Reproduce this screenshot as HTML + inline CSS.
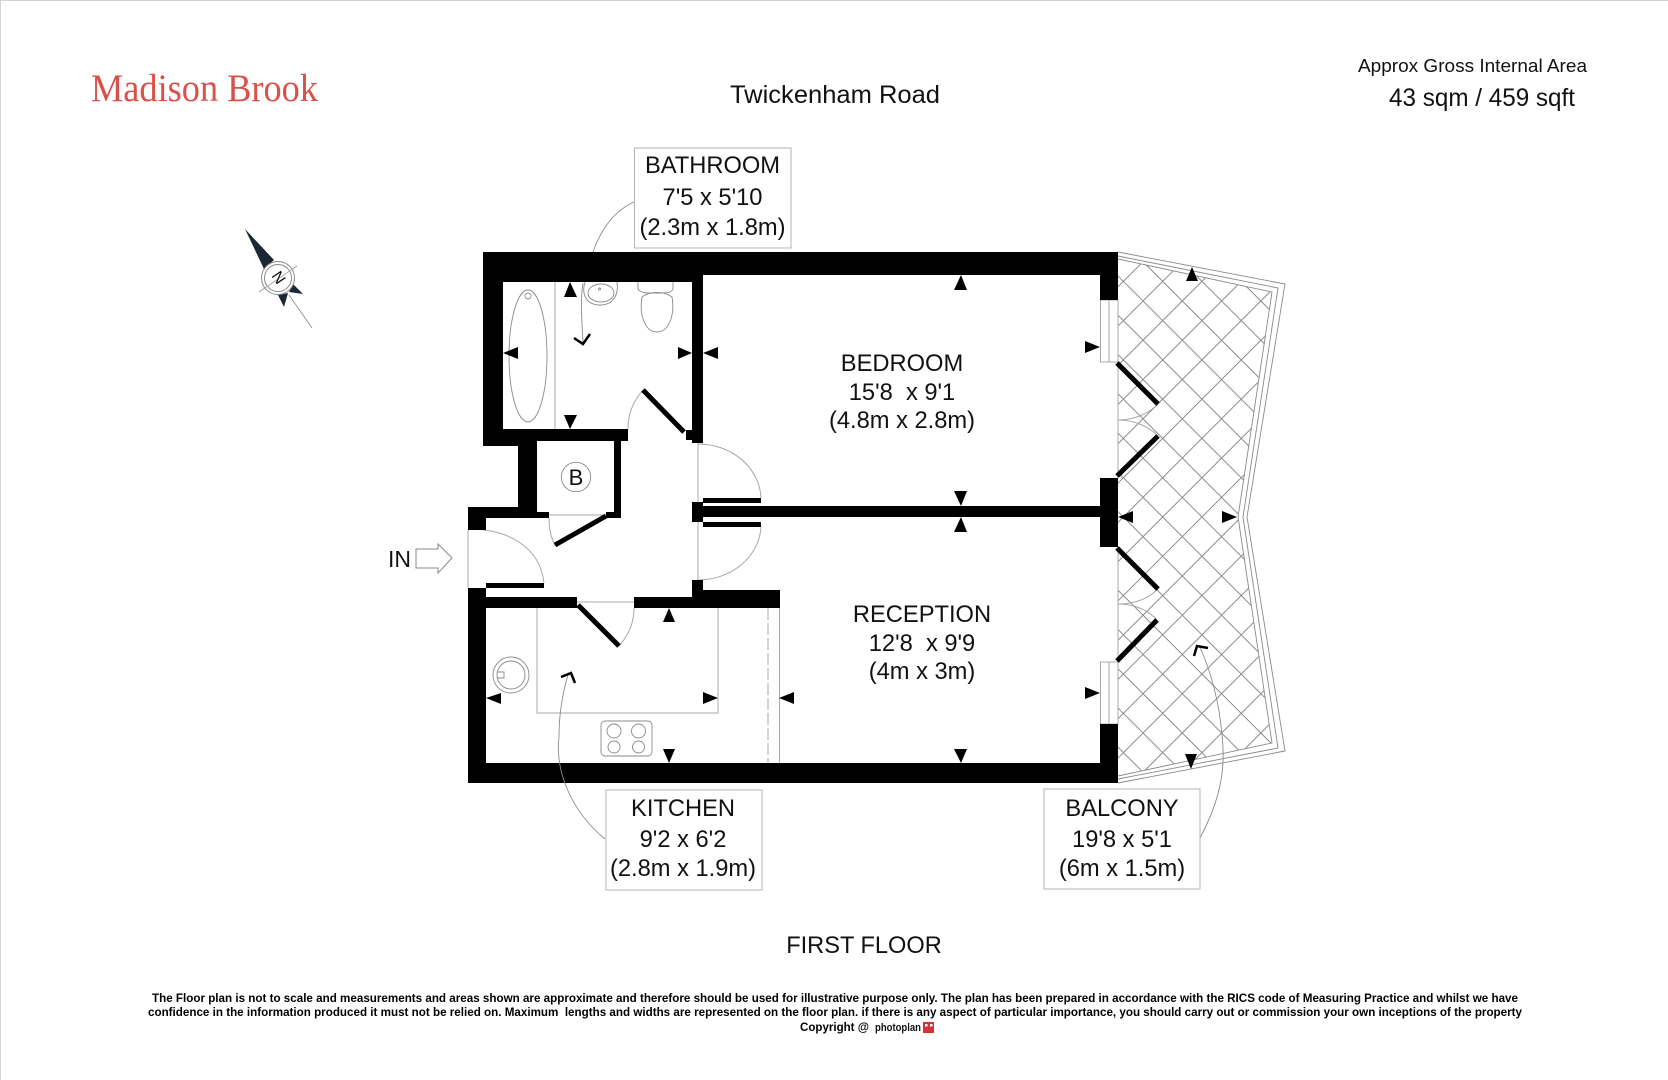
<!DOCTYPE html>
<html lang="en">
<head>
<meta charset="utf-8">
<title>Twickenham Road Floor Plan</title>
<style>
html,body{margin:0;padding:0;background:#fff;width:1668px;height:1080px;overflow:hidden}
svg{display:block}
text{font-family:"Liberation Sans",sans-serif;fill:#111}
.lbl{font-size:23.7px;text-anchor:middle}
.g{fill:none;stroke:#a8a8a8;stroke-width:1}
.t{fill:none;stroke:#8a8a8a;stroke-width:.9}
.leaf{stroke:#000;stroke-width:5;fill:none}
.foot{font-size:12px;font-weight:bold;fill:#000}
</style>
</head>
<body>
<svg xmlns="http://www.w3.org/2000/svg" width="1668" height="1080" viewBox="0 0 1668 1080">
<defs>
<pattern id="hatch" patternUnits="userSpaceOnUse" width="27.77" height="27.77" patternTransform="translate(1182.3,301) rotate(45) translate(-13.885,-13.885)">
<path d="M13.885 0V27.77M0 13.885H27.77" stroke="#8c8c8c" stroke-width="1" fill="none"/>
</pattern>
</defs>
<rect width="1668" height="1080" fill="#fff"/>
<path d="M0 .5H1668M.5 0V1080" stroke="#d4d4d4" stroke-width="1" fill="none"/>

<!-- header -->
<text x="91" y="101" font-size="39" textLength="227" lengthAdjust="spacingAndGlyphs" style="font-family:'Liberation Serif',serif;fill:#d8524c">Madison Brook</text>
<text x="730" y="103" font-size="25.4" textLength="210" lengthAdjust="spacingAndGlyphs">Twickenham Road</text>
<text x="1358" y="72" font-size="18.500" textLength="229" lengthAdjust="spacingAndGlyphs">Approx Gross Internal Area</text>
<text x="1389" y="106" font-size="25" textLength="186" lengthAdjust="spacingAndGlyphs">43 sqm / 459 sqft</text>

<!-- compass -->
<g>
<polygon points="245,229 274,260 264,269" fill="#1d2733"/>
<polygon points="293,284 303,294 289,292" fill="#1d2733"/>
<polygon points="278,295 284,307 288,293" fill="#1d2733"/>
<path d="M289 295L312 328M259 292L297 266" stroke="#999" stroke-width="1" fill="none"/>
<circle cx="278" cy="278" r="16.5" fill="#fff" stroke="#888" stroke-width="1"/>
<circle cx="278" cy="278" r="13.5" fill="#fff" stroke="#888" stroke-width="1"/>
<path d="M259 292L297 266" stroke="#aaa" stroke-width=".8" fill="none"/>
<text x="278" y="278" font-size="16" text-anchor="middle" dominant-baseline="central" transform="rotate(56 278 278)">N</text>
</g>

<!-- balcony -->
<polygon points="1118,259 1272,292 1238,517 1272,743 1118,776" fill="url(#hatch)"/>
<path class="t" d="M1118 252L1285 284L1247 517L1285 751L1118 783"/>
<path class="t" d="M1118 256L1278 288L1243 517L1278 748L1118 779"/>
<path class="t" d="M1118 259L1272 292L1238 517L1272 743L1118 776"/>

<!-- grey structure lines -->
<g class="g">
<path d="M698 443V580"/>
<path d="M698 444A63 56 0 0 1 761 498"/>
<path d="M761 527A63 56 0 0 1 698 580"/>
<path d="M468 529V588"/>
<path d="M468 529C510 529 540 548 544 583"/>
<path d="M577 602H634"/>
<path d="M619 646C628 636 634 624 634 608"/>
<path d="M537 608V713H718V608"/>
<path d="M779.5 608V763"/>
<path d="M768 608V763" stroke-dasharray="12 3"/>
<path d="M555 282V429"/>
<path d="M643 390C634 400 628 412 628 429"/>
<path d="M549 515H606"/>
<path d="M549 518C549 529 551 538 555 545"/>
<path d="M1118 362V478M1118 547V662"/>
<path d="M1158 404C1148 414 1134 420 1118 420C1134 420 1148 426 1158 436"/>
<path d="M1158 589C1148 599 1134 604 1118 604C1134 604 1148 610 1157 620"/>
<rect x="1100.5" y="300" width="17.5" height="62"/>
<path d="M1109 300V362"/>
<rect x="1100.5" y="662" width="17.5" height="62"/>
<path d="M1109 662V724"/>
</g>

<!-- fixtures -->
<g fill="none" stroke="#8a8a8a" stroke-width=".9">
<ellipse cx="528" cy="356" rx="19" ry="66"/>
<circle cx="528" cy="296" r="3"/>
<path d="M585 282C581 295 587 305 600 305C613 305 619 295 617 282"/>
<ellipse cx="601" cy="293" rx="13" ry="9"/>
<circle cx="599.500" cy="289" r="1"/>
<path d="M638 282V289C640 292 645 293 650 293H662C668 293 672 292 673 289V282"/>
<path d="M642 297C639 315 645 332 657 332C669 332 675 315 672 297C665 291 649 291 642 297Z"/>
<circle cx="511" cy="675" r="18"/>
<circle cx="511" cy="675" r="14"/>
<path d="M497 672H504V678H497"/>
<rect x="601" y="721" width="51" height="35" rx="4"/>
<circle cx="614" cy="731" r="7"/>
<circle cx="638.500" cy="731" r="7"/>
<circle cx="614" cy="747" r="6"/>
<circle cx="638.500" cy="747" r="6"/>
</g>
<circle cx="576" cy="477" r="14.700" fill="none" stroke="#8a8a8a" stroke-width=".9"/>
<text x="576" y="485" font-size="22" text-anchor="middle">B</text>

<!-- walls -->
<g fill="#000">
<rect x="483" y="252" width="635" height="23"/>
<rect x="483" y="252" width="220" height="30"/>
<rect x="483" y="252" width="20" height="194"/>
<rect x="483" y="429" width="145" height="12"/>
<rect x="483" y="441" width="54" height="5"/>
<rect x="692" y="282" width="11" height="161"/>
<rect x="686" y="430" width="6" height="10"/>
<rect x="518" y="441" width="19" height="77"/>
<rect x="614" y="441" width="7" height="77"/>
<rect x="606" y="512" width="15" height="6"/>
<rect x="468" y="507" width="69" height="11"/>
<rect x="537" y="512" width="12" height="6"/>
<rect x="468" y="507" width="18" height="23"/>
<rect x="692" y="502" width="11" height="20"/>
<rect x="703" y="506" width="397" height="11"/>
<rect x="703" y="498" width="58" height="5"/>
<rect x="703" y="522" width="58" height="5"/>
<rect x="486" y="583" width="58" height="5"/>
<rect x="468" y="588" width="18" height="195"/>
<rect x="468" y="763" width="650" height="20"/>
<rect x="486" y="597" width="91" height="11"/>
<rect x="634" y="597" width="146" height="11"/>
<rect x="692" y="590" width="88" height="18"/>
<rect x="692" y="580" width="11" height="28"/>
<rect x="1100" y="252" width="18" height="48"/>
<rect x="1100" y="478" width="18" height="69"/>
<rect x="1100" y="724" width="18" height="59"/>
</g>

<!-- door leaves -->
<g class="leaf">
<path d="M643 390L684 432"/>
<path d="M555 545L606 516"/>
<path d="M578 605L619 646"/>
<path d="M1117 363L1158 404"/>
<path d="M1117 476L1158 436"/>
<path d="M1117 548L1158 589"/>
<path d="M1117 661L1157 620"/>
</g>

<!-- measurement arrows -->
<g fill="#000">
<polygon points="570,282 564,297 577,297"/>
<polygon points="564,415 577,415 570,429"/>
<polygon points="503,353 518,347 518,359"/>
<polygon points="692,353 678,347 678,359"/>
<polygon points="703,353 718,347 718,359"/>
<polygon points="961,275 954,290 967,290"/>
<polygon points="954,491 967,491 961,506"/>
<polygon points="961,517 954,532 967,532"/>
<polygon points="954,749 967,749 961,763"/>
<polygon points="669,608 663,622 675,622"/>
<polygon points="663,749 675,749 669,763"/>
<polygon points="486,698 501,693 501,704"/>
<polygon points="718,698 703,692 703,704"/>
<polygon points="779,698 794,692 794,704"/>
<polygon points="1100,347 1085,341 1085,353"/>
<polygon points="1100,693 1085,687 1085,699"/>
<polygon points="1192,267 1186,281 1198,281"/>
<polygon points="1185,754 1197,754 1191,769"/>
<polygon points="1118,517 1133,511 1133,523"/>
<polygon points="1237,517 1222,511 1222,523"/>
</g>

<!-- pointers -->
<g fill="none" stroke="#8a8a8a" stroke-width=".9">
<path d="M634 202C612 212 600 232 593 252"/>
<path d="M583 283C580 300 582 322 583 342"/>
<path d="M605 839C570 810 555 770 559 737C559 715 562 695 568 675"/>
<path d="M1200 838C1220 800 1226 770 1222 735C1219 700 1210 670 1200 647"/>
</g>
<g fill="none" stroke="#000" stroke-width="2.500">
<path d="M574 338L583 344L590 334"/>
<path d="M561 677L571 673L575 683"/>
<path d="M1194 656L1197 646L1208 648"/>
</g>

<!-- label boxes -->
<g fill="#fff" stroke="#b5b5b5" stroke-width="1">
<rect x="634.500" y="148" width="156.500" height="100"/>
<rect x="606" y="790" width="156" height="100"/>
<rect x="1044" y="789" width="156" height="100"/>
</g>
<g class="lbl">
<text class="lbl" x="712.500" y="173">BATHROOM</text>
<text class="lbl" x="712.500" y="205">7'5 x 5'10</text>
<text class="lbl" x="712.500" y="235">(2.3m x 1.8m)</text>
<text class="lbl" x="683" y="816">KITCHEN</text>
<text class="lbl" x="683" y="847">9'2 x 6'2</text>
<text class="lbl" x="683" y="876">(2.8m x 1.9m)</text>
<text class="lbl" x="1122" y="816">BALCONY</text>
<text class="lbl" x="1122" y="847">19'8 x 5'1</text>
<text class="lbl" x="1122" y="876">(6m x 1.5m)</text>
<text class="lbl" x="902" y="371">BEDROOM</text>
<text class="lbl" x="902" y="400" xml:space="preserve">15'8  x 9'1</text>
<text class="lbl" x="902" y="428">(4.8m x 2.8m)</text>
<text class="lbl" x="922" y="622">RECEPTION</text>
<text class="lbl" x="922" y="651" xml:space="preserve">12'8  x 9'9</text>
<text class="lbl" x="922" y="679">(4m x 3m)</text>
</g>

<!-- IN arrow -->
<text x="388" y="567" font-size="23">IN</text>
<polygon points="416,549 438,549 438,544 452,558 438,573 438,568 416,568" fill="#fff" stroke="#8a8a8a" stroke-width="1"/>

<text class="lbl" x="864" y="953" style="font-size:23.6px">FIRST FLOOR</text>

<!-- footer -->
<text class="foot" x="152" y="1002" textLength="1366" lengthAdjust="spacingAndGlyphs">The Floor plan is not to scale and measurements and areas shown are approximate and therefore should be used for illustrative purpose only. The plan has been prepared in accordance with the RICS code of Measuring Practice and whilst we have</text>
<text class="foot" x="148" y="1016" textLength="1374" lengthAdjust="spacingAndGlyphs" xml:space="preserve">confidence in the information produced it must not be relied on. Maximum  lengths and widths are represented on the floor plan. if there is any aspect of particular importance, you should carry out or commission your own inceptions of the property</text>
<text class="foot" x="800" y="1031" textLength="69" lengthAdjust="spacingAndGlyphs">Copyright @</text>
<text x="875" y="1031" font-size="11" font-weight="bold" textLength="46" lengthAdjust="spacingAndGlyphs">photoplan</text>
<rect x="923" y="1022" width="11" height="11" fill="#d8303a"/>
<rect x="925" y="1024" width="2.500" height="2.500" fill="#fff"/>
<rect x="930" y="1024" width="2.500" height="2.500" fill="#fff"/>
</svg>
</body>
</html>
